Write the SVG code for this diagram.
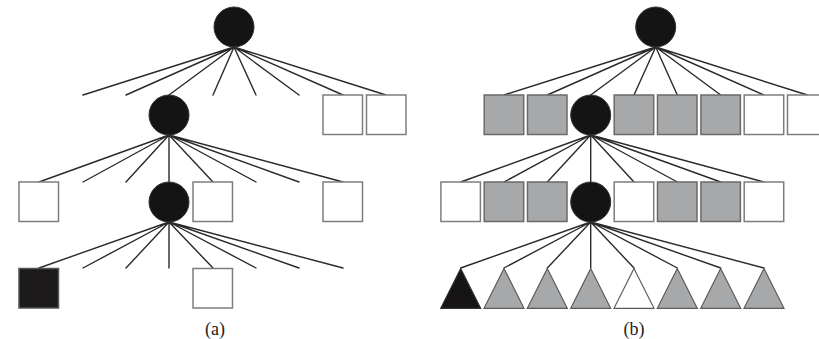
<svg xmlns="http://www.w3.org/2000/svg" width="819" height="339" viewBox="0 0 819 339">
<style>
.e{stroke:#2a2a2a;stroke-width:1.4;fill:none;stroke-linecap:round}
.c{fill:#141414;stroke:#333;stroke-width:1}
.sw{fill:#fff;stroke:#7d7d7d;stroke-width:1.5}
.sg{fill:#a6a8aa;stroke:#6a6a6a;stroke-width:1.5}
.sb{fill:#1c1a1a;stroke:#555;stroke-width:1.5}
.tg{fill:#a6a8aa;stroke:#5a5a5a;stroke-width:1.2}
.tw{fill:#fff;stroke:#5a5a5a;stroke-width:1.2}
.tb{fill:#161414;stroke:#333;stroke-width:1.2}
.lbl{font-family:"Liberation Serif",serif;font-size:18px;fill:#222;text-anchor:middle}
</style>
<rect width="819" height="339" fill="#fff"/>
<g id="connectors">
<!-- (a) level 1 -->
<path class="e" d="M234 47L83 95M234 47L126 95M234 47L169 95M234 47L213 95M234 47L256 95M234 47L299 95M234 47L343 95M234 47L386 95"/>
<!-- (a) level 2 -->
<path class="e" d="M169 135L39 182M169 135L83 182M169 135L126 182M169 135L169 182M169 135L213 182M169 135L256 182M169 135L299 182M169 135L343 182"/>
<!-- (a) level 3 -->
<path class="e" d="M169 222L39 268M169 222L83 268M169 222L126 268M169 222L169 268M169 222L213 268M169 222L256 268M169 222L299 268M169 222L343 268"/>
<!-- (b) level 1 -->
<path class="e" d="M655.7 47L504 95M655.7 47L547.3 95M655.7 47L590.7 95M655.7 47L634 95M655.7 47L677.3 95M655.7 47L720.7 95M655.7 47L764 95M655.7 47L807.3 95"/>
<!-- (b) level 2 -->
<path class="e" d="M590.7 135L460.7 182M590.7 135L504 182M590.7 135L547.3 182M590.7 135L590.7 182M590.7 135L634 182M590.7 135L677.3 182M590.7 135L720.7 182M590.7 135L764 182"/>
<!-- (b) level 3 -->
<path class="e" d="M590.7 222L460.7 268M590.7 222L504 268M590.7 222L547.3 268M590.7 222L590.7 268M590.7 222L634 268M590.7 222L677.3 268M590.7 222L720.7 268M590.7 222L764 268"/>
</g>
<!-- (a) nodes -->
<g id="a-root"><circle class="c" cx="234" cy="27" r="20"/></g>
<g id="a-n1"><circle class="c" cx="169" cy="115" r="20"/></g>
<g id="a-s1"><rect class="sw" x="323" y="95" width="39.5" height="39.5"/></g>
<g id="a-s2"><rect class="sw" x="366.5" y="95" width="39.5" height="39.5"/></g>
<g id="a-s3"><rect class="sw" x="19" y="182" width="39.5" height="39.5"/></g>
<g id="a-n2"><circle class="c" cx="169" cy="202" r="20"/></g>
<g id="a-s4"><rect class="sw" x="193" y="182" width="39.5" height="39.5"/></g>
<g id="a-s5"><rect class="sw" x="323" y="182" width="39.5" height="39.5"/></g>
<g id="a-s6"><rect class="sb" x="19" y="268.5" width="39.5" height="39.5"/></g>
<g id="a-s7"><rect class="sw" x="193" y="268.5" width="39.5" height="39.5"/></g>
<g id="a-label"><text class="lbl" x="215" y="334.5">(a)</text></g>
<!-- (b) nodes -->
<g id="b-root"><circle class="c" cx="655.7" cy="27" r="20"/></g>
<g id="b-r1">
<rect class="sg" x="484.2" y="95" width="39.5" height="39.5"/>
<rect class="sg" x="527.5" y="95" width="39.5" height="39.5"/>
<rect class="sg" x="614.2" y="95" width="39.5" height="39.5"/>
<rect class="sg" x="657.5" y="95" width="39.5" height="39.5"/>
<rect class="sg" x="700.9" y="95" width="39.5" height="39.5"/>
<rect class="sw" x="744.2" y="95" width="39.5" height="39.5"/>
<rect class="sw" x="787.5" y="95" width="39.5" height="39.5"/>
</g>
<g id="b-n1"><circle class="c" cx="590.7" cy="115" r="20"/></g>
<g id="b-r2">
<rect class="sw" x="440.9" y="182" width="39.5" height="39.5"/>
<rect class="sg" x="484.2" y="182" width="39.5" height="39.5"/>
<rect class="sg" x="527.5" y="182" width="39.5" height="39.5"/>
<rect class="sw" x="614.2" y="182" width="39.5" height="39.5"/>
<rect class="sg" x="657.5" y="182" width="39.5" height="39.5"/>
<rect class="sg" x="700.9" y="182" width="39.5" height="39.5"/>
<rect class="sw" x="744.2" y="182" width="39.5" height="39.5"/>
</g>
<g id="b-n2"><circle class="c" cx="590.7" cy="202" r="20"/></g>
<g id="b-r3">
<polygon class="tb" points="460.7,268.5 440.7,308.3 480.7,308.3"/>
<polygon class="tg" points="504,268.5 484,308.3 524,308.3"/>
<polygon class="tg" points="547.3,268.5 527.3,308.3 567.3,308.3"/>
<polygon class="tg" points="590.7,268.5 570.7,308.3 610.7,308.3"/>
<polygon class="tw" points="634,268.5 614,308.3 654,308.3"/>
<polygon class="tg" points="677.3,268.5 657.3,308.3 697.3,308.3"/>
<polygon class="tg" points="720.7,268.5 700.7,308.3 740.7,308.3"/>
<polygon class="tg" points="764,268.5 744,308.3 784,308.3"/>
</g>
<g id="b-label"><text class="lbl" x="634" y="334.5">(b)</text></g>
</svg>
